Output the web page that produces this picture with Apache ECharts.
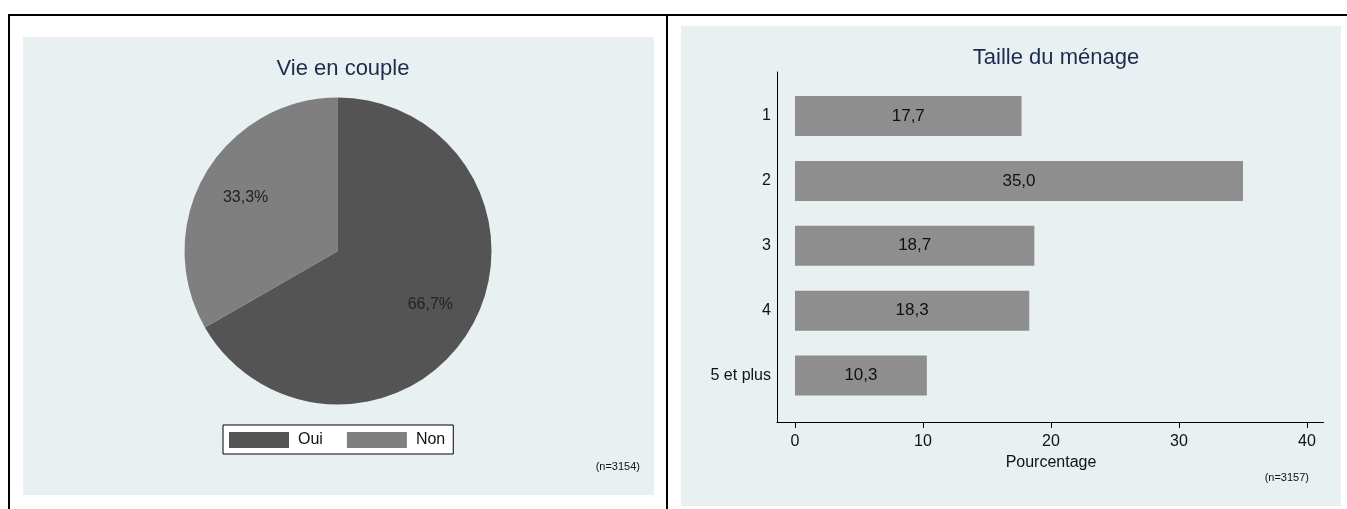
<!DOCTYPE html>
<html>
<head>
<meta charset="utf-8">
<script src="https://cdn.jsdelivr.net/npm/echarts@6/dist/echarts.min.js"></script>
<style>
html,body{margin:0;padding:0;background:#fff;}
#c{width:1347px;height:509px;}
</style>
</head>
<body>
<div id="c"></div>
<script>
// ---- Data ----
const pieTitle = 'Vie en couple';
const pieCategories = ['Oui', 'Non'];
const pieValues = [66.7, 33.3];
const pieNote = '(n=3154)';

const barTitle = 'Taille du ménage';
const barCategories = ['1', '2', '3', '4', '5 et plus'];
const barValues = [17.7, 35.0, 18.7, 18.3, 10.3];
const barAxisName = 'Pourcentage';
const barNote = '(n=3157)';

// ---- Styles ----
const FONT = 'Liberation Sans, Arial, sans-serif';
const PANEL = '#e8f0f2';
const TITLE_COLOR = '#1e2a4e';
const pieColors = ['#545454', '#7f7f7f'];
const fmt = v => v.toFixed(1).replace('.', ',');

const chart = echarts.init(document.getElementById('c'), null, {renderer: 'canvas'});

const option = {
  backgroundColor: '#ffffff',
  animation: false,
  textStyle: {fontFamily: FONT},
  graphic: [
    // panel backgrounds
    {type: 'rect', z: -10, shape: {x: 23, y: 37, width: 631, height: 458}, style: {fill: PANEL}},
    {type: 'rect', z: -10, shape: {x: 681, y: 26, width: 660, height: 480}, style: {fill: PANEL}},
    // outer frame lines
    {type: 'rect', z: 10, shape: {x: 8, y: 14, width: 1339, height: 2}, style: {fill: '#000'}},
    {type: 'rect', z: 10, shape: {x: 8, y: 14, width: 2, height: 495}, style: {fill: '#000'}},
    {type: 'rect', z: 10, shape: {x: 666, y: 14, width: 2, height: 495}, style: {fill: '#000'}},
    // notes
    {type: 'text', z: 10, style: {text: pieNote, x: 640, y: 467, align: 'right', verticalAlign: 'middle', font: '11px ' + FONT, fill: '#111'}},
    {type: 'text', z: 10, style: {text: barNote, x: 1309, y: 478, align: 'right', verticalAlign: 'middle', font: '11px ' + FONT, fill: '#111'}}
  ],
  title: [
    {text: pieTitle, left: 338, top: 53, textAlign: 'center',
     textStyle: {fontFamily: FONT, fontSize: 22, fontWeight: 'normal', color: TITLE_COLOR}},
    {text: barTitle, left: 1051, top: 42, textAlign: 'center',
     textStyle: {fontFamily: FONT, fontSize: 22, fontWeight: 'normal', color: TITLE_COLOR}}
  ],
  legend: {
    data: pieCategories,
    left: 223, top: 425,
    orient: 'horizontal',
    icon: 'rect',
    itemWidth: 60, itemHeight: 16,
    itemGap: 24,
    padding: [7, 8, 6, 6],
    backgroundColor: '#ffffff',
    borderColor: '#000', borderWidth: 1,
    textStyle: {fontFamily: FONT, fontSize: 16, color: '#111', padding: [0, 0, 0, 4]},
    selectedMode: false
  },
  grid: [
    // axis-lines grid
    {left: 777, right: 1347 - 1323.5, top: 72, bottom: 509 - 422, containLabel: false},
    // bars grid
    {left: 795, right: 1347 - 1307, top: 83.6, bottom: 509 - 408, containLabel: false}
  ],
  xAxis: [
    {gridIndex: 0, type: 'value', min: 0, max: 1,
     axisLine: {show: true, lineStyle: {color: '#000', width: 1}},
     axisTick: {show: false}, axisLabel: {show: false}, splitLine: {show: false}},
    {gridIndex: 1, type: 'value', min: 0, max: 40, interval: 10,
     offset: 14,
     axisLine: {show: false},
     axisTick: {show: true, length: 6, lineStyle: {color: '#000'}},
     axisLabel: {show: true, fontFamily: FONT, fontSize: 16, color: '#111', margin: 12},
     splitLine: {show: false},
     name: barAxisName, nameLocation: 'middle', nameGap: 18,
     nameTextStyle: {fontFamily: FONT, fontSize: 16, color: '#111'}}
  ],
  yAxis: [
    {gridIndex: 0, type: 'value', min: 0, max: 1,
     axisLine: {show: true, lineStyle: {color: '#000', width: 1}},
     axisTick: {show: false}, axisLabel: {show: false}, splitLine: {show: false}},
    {gridIndex: 1, type: 'category', data: barCategories, inverse: true,
     axisLine: {show: false}, axisTick: {show: false},
     axisLabel: {fontFamily: FONT, fontSize: 16, color: '#111', margin: 24}}
  ],
  series: [
    {
      type: 'pie', name: pieTitle,
      center: [338, 251], radius: [0, 153.5],
      startAngle: 90, clockwise: true,
      silent: true,
      label: {show: false}, labelLine: {show: false},
      data: pieCategories.map((c, i) => ({name: c, value: pieValues[i], itemStyle: {color: pieColors[i]}}))
    },
    {
      // label carrier, placed at ~2/3 radius
      type: 'pie', name: 'labels',
      center: [338, 251], radius: [54, 153.5],
      startAngle: 90, clockwise: true,
      silent: true,
      legendHoverLink: false,
      itemStyle: {color: 'rgba(0,0,0,0)'},
      label: {show: true, position: 'inner', fontFamily: FONT, fontSize: 16, color: '#222',
              formatter: p => fmt(p.value) + '%'},
      labelLine: {show: false},
      data: pieCategories.map((c, i) => ({name: c + ' ', value: pieValues[i]}))
    },
    {
      type: 'bar', xAxisIndex: 1, yAxisIndex: 1,
      data: barValues, barWidth: 40,
      itemStyle: {color: '#8e8e8e'},
      label: {show: true, position: 'inside', fontFamily: FONT, fontSize: 17, color: '#111',
              formatter: p => fmt(p.value)}
    }
  ]
};
chart.setOption(option);
</script>
</body>
</html>
